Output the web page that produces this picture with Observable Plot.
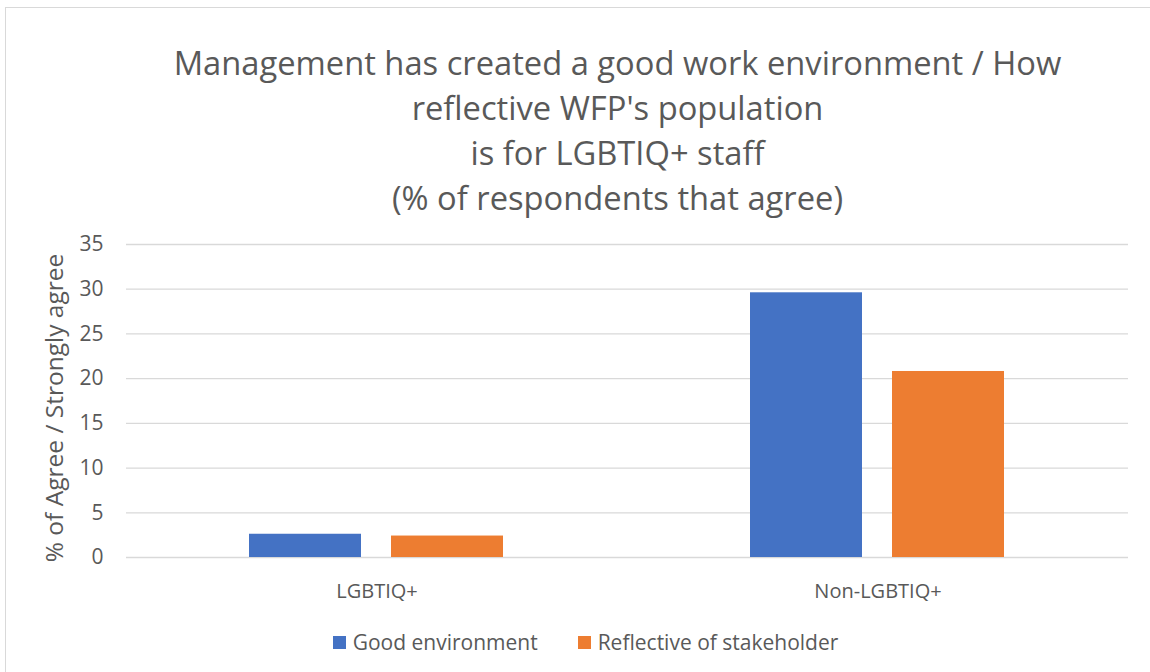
<!DOCTYPE html>
<html>
<head>
<meta charset="utf-8">
<script src="https://cdn.jsdelivr.net/npm/d3@7"></script>
<script src="https://cdn.jsdelivr.net/npm/@observablehq/plot@0.6"></script>
<style>
  html, body { margin: 0; padding: 0; background: #fff; }
  #wrap { position: relative; width: 1150px; height: 672px; overflow: hidden; background: #fff; font-family: "Open Sans", "Noto Sans", sans-serif; color: #595959; }
  #frame { position: absolute; left: 5px; top: 7px; width: 1300px; height: 800px; border: 1px solid #d9d9d9; box-sizing: border-box; }
  #title { position: absolute; left: 0; top: 40px; width: 1235px; text-align: center; font-size: 32.7px; line-height: 45px; white-space: nowrap; }
  #chart { position: absolute; left: 0; top: 0; }
  #ylabel { position: absolute; left: 0; top: 0; font-size: 24.5px; line-height: 24px; white-space: nowrap; transform-origin: 0 0; transform: translate(42px, 408px) rotate(-90deg) translateX(-50%); }
  #legend { position: absolute; left: 0; top: 628px; width: 1171px; display: flex; justify-content: center; align-items: center; font-size: 21px; line-height: 28px; }
  .item { display: flex; align-items: center; margin: 0 20px; }
  .swatch { width: 13px; height: 13px; margin-right: 7px; }
</style>
</head>
<body>
<div id="wrap">
  <div id="frame"></div>
  <div id="chart"></div>
  <div id="title"></div>
  <div id="ylabel"></div>
  <div id="legend"></div>
</div>
<script>
const titleLines = [
  "Management has created a good work environment / How",
  "reflective WFP's population",
  "is for LGBTIQ+ staff",
  "(% of respondents that agree)"
];
const yLabel = "% of Agree / Strongly agree";
const categories = ["LGBTIQ+", "Non-LGBTIQ+"];
const series = ["Good environment", "Reflective of stakeholder"];
const goodEnvironment = [2.6, 29.6];
const reflectiveOfStakeholder = [2.4, 20.8];
const yTicks = [0, 5, 10, 15, 20, 25, 30, 35];
const colors = ["#4472c4", "#ed7d31"];

const seriesValues = [goodEnvironment, reflectiveOfStakeholder];
const data = [];
categories.forEach((c, i) => {
  series.forEach((s, j) => {
    data.push({category: c, series: s, value: seriesValues[j][i]});
  });
});

const chart = Plot.plot({
  width: 1150,
  height: 617,
  marginTop: 244,
  marginBottom: 60,
  marginLeft: 126,
  marginRight: 22,
  style: {fontFamily: "'Open Sans', 'Noto Sans', sans-serif", fontSize: "20px", color: "#595959", background: "transparent"},
  fx: {domain: categories, padding: 0, label: null},
  x: {domain: series, axis: null, paddingInner: 0.21, paddingOuter: 0.857},
  y: {domain: [0, 35], label: null},
  color: {domain: series, range: colors},
  marks: [
    Plot.gridY(yTicks, {stroke: "#d9d9d9", strokeOpacity: 1, strokeWidth: 1.3}),
    Plot.axisY(yTicks, {tickSize: 0, tickPadding: 23, label: null, fontSize: 21}),
    Plot.axisFx({anchor: "bottom", tickSize: 0, tickPadding: 26, label: null, fontSize: 20}),
    Plot.barY(data, {fx: "category", x: "series", y: "value", fill: "series"})
  ]
});
document.getElementById("chart").appendChild(chart);

const t = document.getElementById("title");
titleLines.forEach(line => {
  const d = document.createElement("div");
  d.textContent = line;
  t.appendChild(d);
});
document.getElementById("ylabel").textContent = yLabel;

const legend = document.getElementById("legend");
series.forEach((s, i) => {
  const item = document.createElement("div");
  item.className = "item";
  const sw = document.createElement("span");
  sw.className = "swatch";
  sw.style.background = colors[i];
  const label = document.createElement("span");
  label.textContent = s;
  item.appendChild(sw);
  item.appendChild(label);
  legend.appendChild(item);
});
</script>
</body>
</html>
